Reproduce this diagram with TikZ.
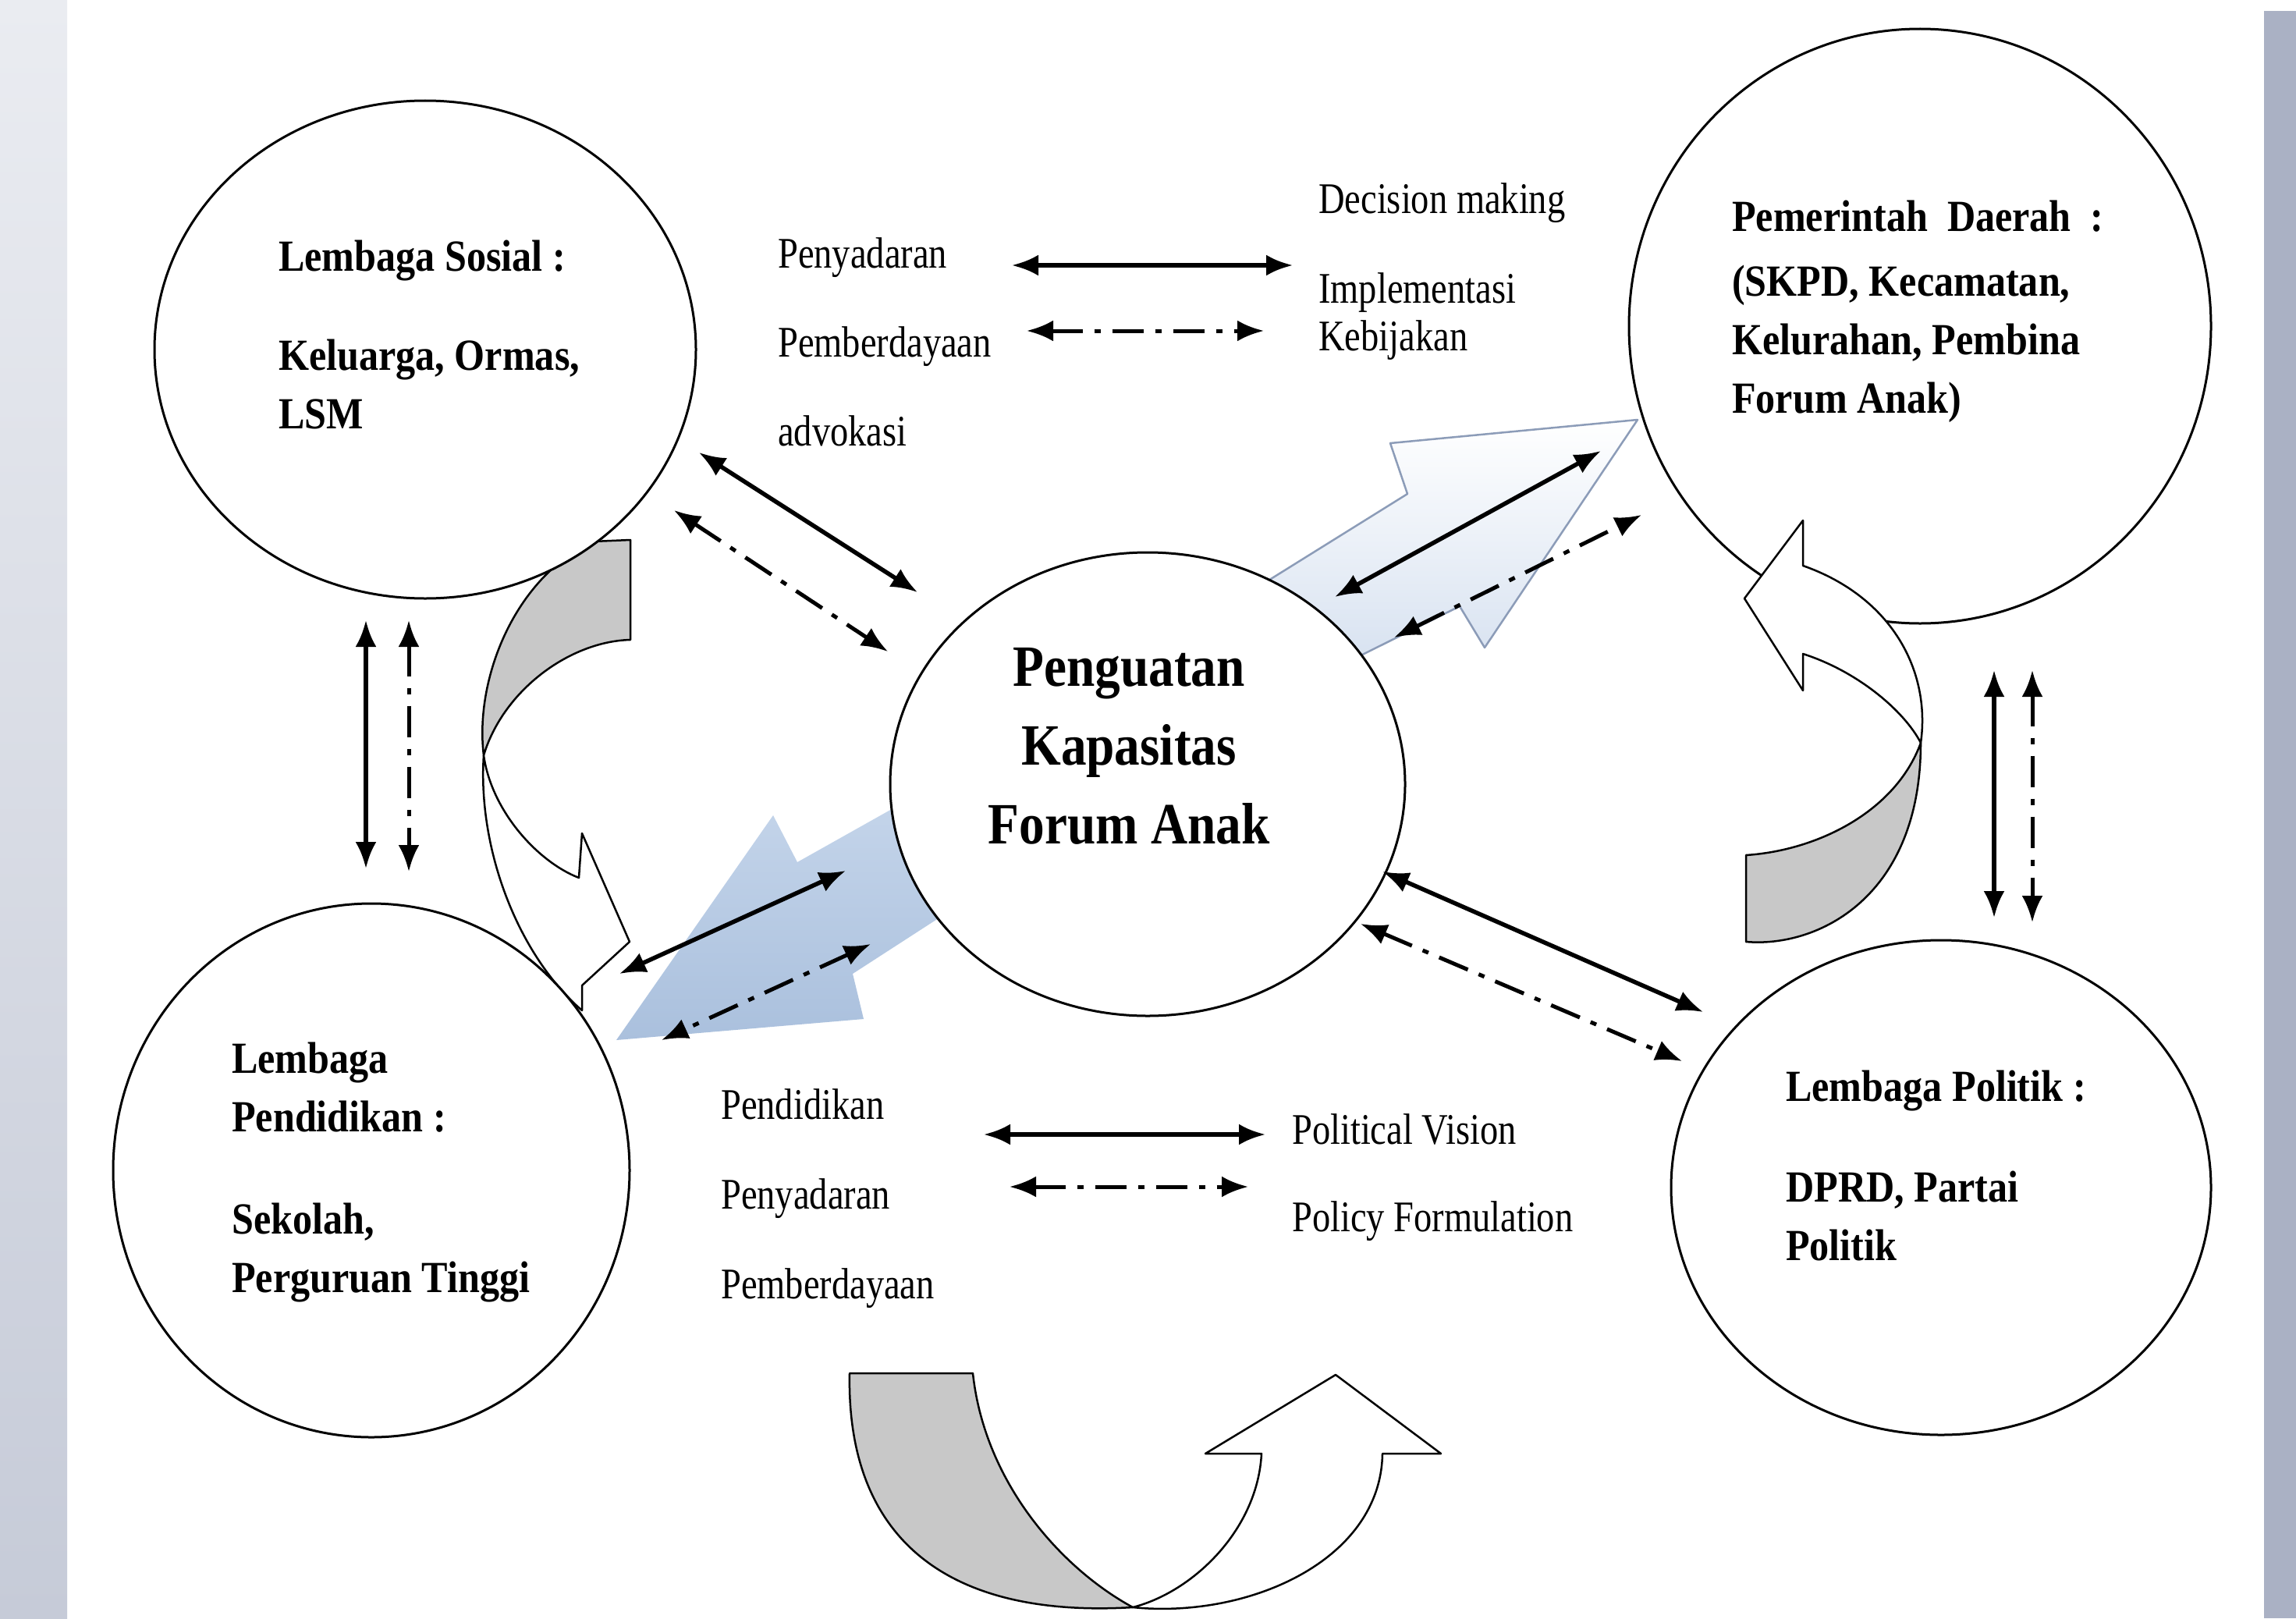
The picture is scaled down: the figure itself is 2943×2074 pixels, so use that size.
\documentclass[tikz,border=0pt]{standalone}
\usepackage{fontspec}
\setmainfont{Liberation Serif}
\newfontfamily\circfont{Liberation Serif}[FakeStretch=0.88]
\newfontfamily\labfont{Liberation Serif}[FakeStretch=0.83]
\newfontfamily\midfont{Liberation Serif}[FakeStretch=0.87]
\usetikzlibrary{shapes.geometric}
\usetikzlibrary{arrows.meta}
\usetikzlibrary{positioning}

\definecolor{stripL}{RGB}{234,236,241}
\definecolor{stripLb}{RGB}{198,203,216}
\definecolor{stripR}{RGB}{170,177,196}
\definecolor{ribbon}{RGB}{200,200,200}
\definecolor{paleblue}{RGB}{214,225,240}
\definecolor{paleedge}{RGB}{140,156,184}
\definecolor{midblue}{RGB}{198,214,235}
\definecolor{midblueb}{RGB}{170,192,221}

\tikzset{
blob/.style={ % the five institutions
ellipse, draw, line width=3pt, fill=white, inner sep=0pt},
boldtxt/.style={inner sep=0pt, anchor=north west, align=left,
font=\circfont\bfseries\fontsize{57}{75}\selectfont},
lab/.style={inner sep=0pt, anchor=north west, align=left,
font=\labfont\fontsize{56}{114}\selectfont},
both/.style={ % two-way link
line width=5.5pt, {Latex[length=34pt,width=27pt]}-{Latex[length=34pt,width=27pt]}},
bothdd/.style={both, line width=5pt, dash pattern=on 40pt off 15pt on 8pt off 15pt},
ribbonback/.style={draw, line width=2.5pt, fill=ribbon, line join=round},
ribbonfront/.style={draw, line width=2.5pt, fill=white, line join=round}}

\begin{document}
\begin{tikzpicture}[x=1pt, y=-1pt]
	\useasboundingbox (0,0) rectangle (2943,2074);
	\fill[white] (0,0) rectangle (2943,2074);
	\shade[top color=stripL, bottom color=stripLb] (0,0) rectangle (86,2074);
	\fill[stripR] (2902,14) rectangle (2943,2074);

	% big arrows behind the circles
	\shade[draw=paleedge, line width=2.5pt, line join=round, top color=white, bottom color=paleblue]
		(2099,538) -- (1782,568) -- (1804,633) -- (1600,760) -- (1700,862) -- (1871,777) -- (1903,830) -- cycle;
	\shade[top color=midblue, bottom color=midblueb]
		(790,1333) -- (991,1045) -- (1022,1105) -- (1200,1005) -- (1260,1140) -- (1093,1248) -- (1107,1306) -- cycle;
	\filldraw[ribbonback] (760,694) -- (808,692) -- (808,820) .. controls (730,822) and (645,885) .. (620,968)
		.. controls (608,870) and (660,740) .. (760,694) -- cycle;
	\filldraw[ribbonfront] (620,968) .. controls (612,1090) and (665,1225) .. (746,1295) -- (746,1263) -- (807,1207)
		-- (746,1068) -- (742,1125) .. controls (690,1105) and (630,1040) .. (620,968) -- cycle;

	\node[blob, minimum width=694pt, minimum height=638pt] (sos) at (545,448) {};
	\node[blob, minimum width=746pt, minimum height=762pt] (pem) at (2461,418) {};
	\node[blob, minimum width=660pt, minimum height=594pt] (cen) at (1471,1005) {};
	\node[blob, minimum width=662pt, minimum height=684pt] (pen) at (476,1500) {};
	\node[blob, minimum width=692pt, minimum height=634pt] (pol) at (2488,1522) {};

	% curved arrows in front
	\filldraw[ribbonback] (2238,1096) -- (2238,1207) .. controls (2330,1215) and (2462,1150) .. (2462,952)
		.. controls (2430,1040) and (2330,1090) .. (2238,1096) -- cycle;
	\filldraw[ribbonfront] (2462,952) .. controls (2475,860) and (2425,765) .. (2311,725) -- (2311,667) -- (2236,767)
		-- (2311,885) -- (2311,838) .. controls (2380,860) and (2440,910) .. (2462,952) -- cycle;
	\filldraw[ribbonback] (1089,1760) -- (1247,1760) .. controls (1262,1900) and (1360,2010) .. (1452,2060)
		.. controls (1200,2075) and (1085,1960) .. (1089,1760) -- cycle;
	\filldraw[ribbonfront] (1452,2060) .. controls (1600,2075) and (1770,2000) .. (1772,1863) -- (1847,1863) -- (1712,1762)
		-- (1545,1863) -- (1617,1863) .. controls (1612,1960) and (1530,2040) .. (1452,2060) -- cycle;

	\node[boldtxt] (sosT) at (357,308) {Lembaga Sosial :\\[52pt]Keluarga, Ormas,\\LSM};
	\node[boldtxt] (pemT) at (2220,257) {Pemerintah\ \ Daerah\ \ :\\[8pt](SKPD, Kecamatan,\\Kelurahan, Pembina\\Forum Anak)};
	\node[boldtxt] (penT) at (297,1336) {Lembaga\\Pendidikan :\\[56pt]Sekolah,\\Perguruan Tinggi};
	\node[boldtxt] (polT) at (2289,1372) {Lembaga Politik :\\[54pt]DPRD, Partai\\Politik};
	\node[inner sep=0pt, anchor=north, align=center, font=\midfont\bfseries\fontsize{75}{101}\selectfont]
		(cenT) at (1447,830) {Penguatan\\Kapasitas\\Forum Anak};

	\node[lab] (topL) at (997,304) {Penyadaran\\Pemberdayaan\\advokasi};
	\node[lab, font=\labfont\fontsize{56}{61}\selectfont] (topR) at (1690,234) {Decision making\\[54pt]Implementasi\\Kebijakan};
	\node[lab, font=\labfont\fontsize{56}{115}\selectfont] (botL) at (924,1395) {Pendidikan\\Penyadaran\\Pemberdayaan};
	\node[lab, font=\labfont\fontsize{56}{112}\selectfont] (botR) at (1656,1427) {Political Vision\\Policy Formulation};

	% ends of the links
	\coordinate (tl1) at (1297,340); \coordinate (tr1) at (1657,340);
	\coordinate (tl2) at (1316,424); \coordinate (tr2) at (1620,424);
	\coordinate (bl1) at (1261,1454); \coordinate (br1) at (1622,1454);
	\coordinate (bl2) at (1294,1521); \coordinate (br2) at (1600,1521);
	\coordinate (sv1) at (469,795); \coordinate (ev1) at (469,1113);
	\coordinate (sv2) at (524,795); \coordinate (ev2) at (524,1117);
	\coordinate (pv1) at (2556,859); \coordinate (lv1) at (2556,1176);
	\coordinate (pv2) at (2605,859); \coordinate (lv2) at (2605,1182);
	\coordinate (sa) at (896,580); \coordinate (ca) at (1176,759);
	\coordinate (sb) at (864,654); \coordinate (cb) at (1138,835);
	\coordinate (cc) at (1711,765); \coordinate (pa) at (2052,578);
	\coordinate (cd) at (1787,817); \coordinate (pb) at (2104,660);
	\coordinate (ce) at (1772,1117); \coordinate (la) at (2183,1297);
	\coordinate (cf) at (1744,1184); \coordinate (lb) at (2156,1360);
	\coordinate (cg) at (1084,1116); \coordinate (ea) at (794,1248);
	\coordinate (ch) at (1116,1210); \coordinate (eb) at (848,1333);

	\draw[both] (tl1) -- (tr1);
	\draw[bothdd] (tl2) -- (tr2);
	\draw[both] (bl1) -- (br1);
	\draw[bothdd] (bl2) -- (br2);
	\draw[both] (sv1) -- (ev1);
	\draw[bothdd] (sv2) -- (ev2);
	\draw[both] (pv1) -- (lv1);
	\draw[bothdd] (pv2) -- (lv2);
	\draw[both] (sa) -- (ca);
	\draw[bothdd] (sb) -- (cb);
	\draw[both] (cc) -- (pa);
	\draw[bothdd] (cd) -- (pb);
	\draw[both] (ce) -- (la);
	\draw[bothdd] (cf) -- (lb);
	\draw[both] (cg) -- (ea);
	\draw[bothdd] (ch) -- (eb);
\end{tikzpicture}
\end{document}
